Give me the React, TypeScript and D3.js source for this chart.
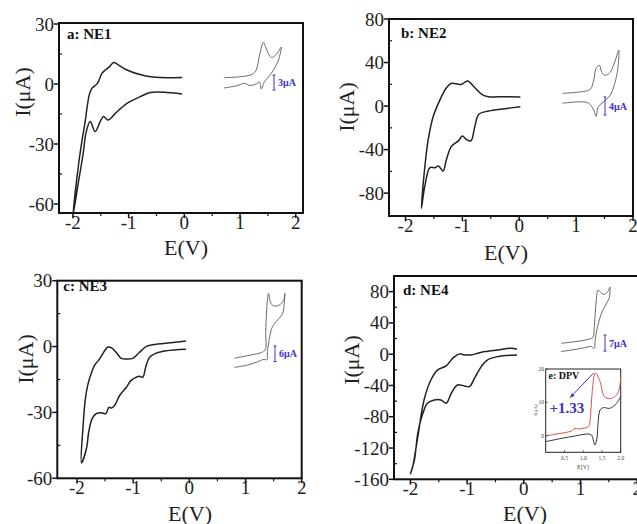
import React from 'react'
import * as d3 from 'd3'

type Pt = [number, number]

// a: NE1 (E in V, I in uA)
const ne1Fwd: Pt[] = [[-0.04, 3.3], [-0.43, 3.2], [-0.73, 4.2], [-1.03, 7], [-1.2, 9.8], [-1.27, 10.8], [-1.34, 8.7], [-1.42, 7], [-1.48, 5.3], [-1.56, 0.3], [-1.66, -2.2], [-1.7, -4.7], [-1.74, -10.5], [-1.78, -18.8], [-1.84, -28.8], [-1.9, -40.5], [-2.0, -66]]
const ne1Rev: Pt[] = [[-2.0, -66], [-1.9, -48.8], [-1.82, -35.5], [-1.76, -23.8], [-1.69, -18.8], [-1.6, -23.8], [-1.51, -18.8], [-1.45, -16.3], [-1.37, -18], [-1.24, -14.7], [-1.03, -9.7], [-0.79, -6.3], [-0.61, -4.2], [-0.31, -4.2], [-0.04, -5]]
const ne1OxFwd: Pt[] = [[0.71, 0.46], [1.01, 0.66], [1.22, 1.14], [1.29, 2.0], [1.35, 5.0], [1.42, 7.5], [1.48, 6.0], [1.56, 4.5], [1.63, 4.9], [1.69, 5.7], [1.74, 6.6]]
const ne1OxRev: Pt[] = [[1.74, 6.6], [1.69, 4.0], [1.6, 2.0], [1.51, 0.6], [1.44, -0.3], [1.38, -1.8], [1.35, -0.4], [1.29, -0.8], [1.18, -1.1], [1.08, -0.7], [0.92, -1.2], [0.71, -1.6]]

// b: NE2
const ne2Fwd: Pt[] = [[0.02, 8.3], [-0.25, 8.6], [-0.54, 8.6], [-0.66, 10.8], [-0.78, 16.9], [-0.91, 23], [-1.01, 20], [-1.07, 20], [-1.19, 20.9], [-1.28, 16.9], [-1.39, 6.2], [-1.51, -9.2], [-1.6, -30.6], [-1.67, -61], [-1.72, -94]]
const ne2Rev: Pt[] = [[-1.72, -94], [-1.66, -73.6], [-1.57, -56.6], [-1.48, -56.6], [-1.42, -55], [-1.34, -59.8], [-1.28, -49], [-1.19, -36.8], [-1.07, -32], [-1.0, -27.6], [-0.93, -30.6], [-0.85, -32], [-0.78, -18.4], [-0.71, -7.6], [-0.54, -4.6], [-0.25, -2.4], [0.02, -0.6]]
const ne2OxFwd: Pt[] = [[0.76, 0], [1.1, 0.36], [1.25, 0.9], [1.31, 2.96], [1.35, 5.5], [1.41, 6.2], [1.45, 4.7], [1.51, 4.0], [1.6, 4.7], [1.69, 7.4], [1.75, 9.6]]
const ne2OxRev: Pt[] = [[1.75, 9.6], [1.72, 4.4], [1.6, -0.4], [1.48, -1.9], [1.39, -3.0], [1.35, -5.1], [1.31, -3.7], [1.22, -2.2], [1.1, -1.9], [0.76, -2.2]]

// c: NE3
const ne3Fwd: Pt[] = [[-0.06, 2.5], [-0.29, 1.8], [-0.65, 0.8], [-0.77, 0], [-0.89, -2.7], [-1.01, -5.4], [-1.12, -5.7], [-1.21, -5.4], [-1.3, -2.7], [-1.39, -0.5], [-1.45, -0.2], [-1.51, -2.0], [-1.6, -5.7], [-1.69, -8.7], [-1.75, -12.5], [-1.81, -17.8], [-1.85, -23.7], [-1.89, -35.8], [-1.92, -53]]
const ne3Rev: Pt[] = [[-1.85, -53], [-1.83, -46.3], [-1.79, -38.8], [-1.73, -32.8], [-1.66, -30.6], [-1.57, -30.1], [-1.49, -30.6], [-1.43, -27.6], [-1.39, -28.0], [-1.33, -26.8], [-1.24, -22.3], [-1.12, -18.5], [-1.04, -15.5], [-0.95, -14.0], [-0.89, -13.5], [-0.83, -14.0], [-0.77, -8.7], [-0.71, -5.0], [-0.59, -3.0], [-0.41, -1.9], [-0.06, -1.2]]
const ne3OxFwd: Pt[] = [[0.8, 0], [1.1, 1.3], [1.28, 2.2], [1.35, 3.2], [1.36, 10.9], [1.39, 22.4], [1.41, 25.0], [1.45, 21.2], [1.51, 20.1], [1.6, 20.5], [1.68, 22.4], [1.7, 25.0]]
const ne3OxRev: Pt[] = [[1.7, 25.0], [1.69, 21.2], [1.66, 17.3], [1.57, 14.7], [1.48, 12.2], [1.42, 7.0], [1.39, 2.6], [1.38, -0.6], [1.33, -0.4], [1.22, -1.3], [1.04, -2.6], [0.8, -3.5]]

// d: NE4
const ne4Fwd: Pt[] = [[-0.12, 6.4], [-0.22, 7.7], [-0.46, 5.5], [-0.69, 3.3], [-0.81, 1.3], [-0.93, -0.9], [-1.05, -0.9], [-1.13, 0.4], [-1.22, -3.1], [-1.28, -7.3], [-1.37, -15], [-1.52, -20], [-1.64, -33], [-1.76, -58.6], [-1.87, -105.6], [-1.96, -144], [-2.0, -153]]
const ne4Rev: Pt[] = [[-2.0, -153], [-1.93, -135.5], [-1.87, -101], [-1.78, -75.6], [-1.7, -62.8], [-1.58, -58.6], [-1.46, -58.6], [-1.37, -62.8], [-1.28, -50], [-1.17, -39.4], [-1.05, -40.6], [-0.96, -41.5], [-0.87, -30.8], [-0.75, -15.9], [-0.64, -7.3], [-0.46, -3.1], [-0.12, -0.9]]
const ne4OxFwd: Pt[] = [[0.66, 0], [0.9, 0.7], [1.08, 1.4], [1.22, 2.6], [1.24, 5.8], [1.26, 13.0], [1.28, 18.8], [1.31, 23.2], [1.37, 21.7], [1.43, 21.4], [1.49, 22.8], [1.52, 24.5]]
const ne4OxRev: Pt[] = [[1.52, 24.5], [1.51, 20], [1.49, 18.8], [1.37, 13.0], [1.3, 7.2], [1.26, 1.4], [1.24, -2.2], [1.19, -1.4], [1.02, -2.2], [0.66, -3.6]]

// e: DPV inset of NE4
const dpvRed: Pt[] = [[0.0, -0.1], [0.25, 0.4], [0.51, 0.9], [0.69, 1.4], [0.78, 2.2], [0.87, 2.0], [1.0, 2.2], [1.14, 2.7], [1.18, 4.2], [1.21, 8.2], [1.24, 13.2], [1.3, 18.2], [1.33, 18.8], [1.45, 16.2], [1.54, 12.2], [1.63, 11.2], [1.8, 11.4], [1.94, 13.2], [2.0, 17.7]]
const dpvBlack: Pt[] = [[0.0, -1.8], [0.43, -0.8], [0.78, -0.1], [1.14, 0.5], [1.22, 0.2], [1.27, -1.3], [1.31, -2.8], [1.36, -1.3], [1.4, 4.2], [1.45, 7.7], [1.54, 8.4], [1.71, 8.2], [1.89, 9.7], [2.0, 11.7]]
const dpvXTicks = [0.5, 1.0, 1.5, 2.0]
const dpvYTicks = [0, 10, 20]
const dpvPeak = 1.33

const xTicks = [-2, -1, 0, 1, 2]
const yTicksA = [-60, -30, 0, 30]
const yTicksB = [-80, -40, 0, 40, 80]
const yTicksC = [-60, -30, 0, 30]
const yTicksD = [-160, -120, -80, -40, 0, 40, 80]
const scaleBars = [3, 4, 6, 7]

const FONT = "'Liberation Serif', 'Times New Roman', serif"
const BLUE = '#3a34c8'

const panels = [
  {
    title: 'a: NE1', fwd: ne1Fwd, rev: ne1Rev, oxFwd: ne1OxFwd, oxRev: ne1OxRev, yTicks: yTicksA, bar: scaleBars[0],
    box: [59, 23, 303, 213], xDom: [-2.25, 2.13], yDom: [-64.5, 30.5],
    titleAt: [8, 16], yLab: [22, 92], xLab: [186, 255], ox: {base: 80, pxPerUnit: 5, barX: 274, barTop: 75},
  },
  {
    title: 'b: NE2', fwd: ne2Fwd, rev: ne2Rev, oxFwd: ne2OxFwd, oxRev: ne2OxRev, yTicks: yTicksB, bar: scaleBars[1],
    box: [389, 19, 633, 216], xDom: [-2.29, 2.0], yDom: [-101, 80],
    titleAt: [12, 19], yLab: [346, 107], xLab: [506, 260], ox: {base: 93.3, pxPerUnit: 4.5, barX: 605, barTop: 97},
  },
  {
    title: 'c: NE3', fwd: ne3Fwd, rev: ne3Rev, oxFwd: ne3OxFwd, oxRev: ne3OxRev, yTicks: yTicksC, bar: scaleBars[2],
    box: [57.3, 280.7, 301.7, 478.3], xDom: [-2.35, 2.0], yDom: [-60, 30],
    titleAt: [6, 10], yLab: [25, 359], xLab: [190, 521], ox: {base: 358.3, pxPerUnit: 2.6, barX: 275, barTop: 346},
  },
  {
    title: 'd: NE4', fwd: ne4Fwd, rev: ne4Rev, oxFwd: ne4OxFwd, oxRev: ne4OxRev, yTicks: yTicksD, bar: scaleBars[3],
    box: [394, 276, 640, 479.3], xDom: [-2.29, 2.05], yDom: [-160, 100],
    titleAt: [9, 19], yLab: [351, 360], xLab: [525, 521], ox: {base: 343.3, pxPerUnit: 2.3, barX: 605, barTop: 335},
  },
]

const minorBetween = (ticks: number[]) => ticks.slice(1).map((t, i) => (t + ticks[i]) / 2)
const fmt = (t: number) => (t < 0 ? '-' + Math.abs(t) : String(t))

function Panel({p, idx}: {p: any, idx: number}) {
  const [x0, y0, x1, y1] = p.box
  const x = d3.scaleLinear().domain(p.xDom).range([x0, x1])
  const y = d3.scaleLinear().domain(p.yDom).range([y1, y0])
  const yo = d3.scaleLinear().domain([0, 1]).range([p.ox.base, p.ox.base - p.ox.pxPerUnit])
  const line = d3.line<Pt>().x(d => x(d[0])).y(d => y(d[1])).curve(d3.curveCatmullRom.alpha(0.5))
  const lineOx = d3.line<Pt>().x(d => x(d[0])).y(d => yo(d[1])).curve(d3.curveCatmullRom.alpha(0.5))
  const xMinor = minorBetween(xTicks)
  const yMinor = minorBetween(p.yTicks)
  const clip = `clip${idx}`
  const barLen = p.ox.pxPerUnit * p.bar
  return <g>
    <defs>
      <clipPath id={clip}><rect x={x0} y={y0} width={x1 - x0} height={y1 - y0} /></clipPath>
    </defs>
    <g clipPath={`url(#${clip})`}>
      <path d={line([...p.fwd, ...p.rev.slice(1)]) || ''} fill="none" stroke="#222" strokeWidth={1.5} />
      <path d={lineOx([...p.oxFwd, ...p.oxRev.slice(1)]) || ''} fill="none" stroke="#6a6a6a" strokeWidth={1} />
    </g>
    <rect x={x0} y={y0} width={x1 - x0} height={y1 - y0} fill="none" stroke="#111" strokeWidth={2} />
    {xTicks.filter(t => x(t) <= x1 + 0.5).map(t => <g key={'x' + t}>
      <line x1={x(t)} x2={x(t)} y1={y1} y2={y1 + 5} stroke="#111" strokeWidth={1.5} />
      <text x={x(t)} y={y1 + 16} textAnchor="middle" fontSize={19} fontFamily={FONT} fill="#222">{fmt(t)}</text>
    </g>)}
    {xMinor.map(t => <line key={'xm' + t} x1={x(t)} x2={x(t)} y1={y1} y2={y1 + 3} stroke="#111" strokeWidth={1.2} />)}
    {p.yTicks.map((t: number) => <g key={'y' + t}>
      <line x1={x0 - 5} x2={x0} y1={y(t)} y2={y(t)} stroke="#111" strokeWidth={1.5} />
      <text x={x0 - 5} y={y(t) + 6.5} textAnchor="end" fontSize={19} fontFamily={FONT} fill="#222">{fmt(t)}</text>
    </g>)}
    {yMinor.map(t => <line key={'ym' + t} x1={x0} x2={x0 + 3} y1={y(t)} y2={y(t)} stroke="#111" strokeWidth={1.2} />)}
    <text x={x0 + p.titleAt[0]} y={y0 + p.titleAt[1]} fontSize={15} fontWeight="bold" fontFamily={FONT} fill="#111">{p.title}</text>
    <text transform={`translate(${p.yLab[0]},${p.yLab[1]}) rotate(-90)`} textAnchor="middle" dominantBaseline="central" fontSize={22} fontFamily={FONT} fill="#222">I(μA)</text>
    <text x={p.xLab[0]} y={p.xLab[1]} textAnchor="middle" fontSize={22} fontFamily={FONT} fill="#222">E(V)</text>
    <g stroke={BLUE} strokeWidth={1}>
      <line x1={p.ox.barX} x2={p.ox.barX} y1={p.ox.barTop} y2={p.ox.barTop + barLen} />
      <line x1={p.ox.barX - 1.5} x2={p.ox.barX + 1.5} y1={p.ox.barTop} y2={p.ox.barTop} />
      <line x1={p.ox.barX - 1.5} x2={p.ox.barX + 1.5} y1={p.ox.barTop + barLen} y2={p.ox.barTop + barLen} />
    </g>
    <text x={p.ox.barX + 4} y={p.ox.barTop + barLen / 2 + 3.5} fontSize={10} fontWeight="bold" fontFamily={FONT} fill={BLUE}>{p.bar}μA</text>
  </g>
}

function DpvInset() {
  const x = d3.scaleLinear().domain([0, 2.0]).range([545.7, 620.7])
  const y = d3.scaleLinear().domain([-5, 20]).range([452.3, 369])
  const line = d3.line<Pt>().x(d => x(d[0])).y(d => y(d[1])).curve(d3.curveCatmullRom.alpha(0.5))
  const peakY = d3.max(dpvRed, d => d[1]) as number
  const ax = x(dpvPeak) - 2, ay = y(peakY)
  const bx = x(0.65), by = y(11.4)
  const ang = Math.atan2(by - ay, bx - ax)
  const head = [[bx, by], [bx - 5 * Math.cos(ang - 0.4), by - 5 * Math.sin(ang - 0.4)], [bx - 5 * Math.cos(ang + 0.4), by - 5 * Math.sin(ang + 0.4)]]
  return <g>
    <rect x={545.7} y={369} width={75} height={83.3} fill="#fff" stroke="#222" strokeWidth={1} />
    <path d={line(dpvBlack) || ''} fill="none" stroke="#333" strokeWidth={1} />
    <path d={line(dpvRed) || ''} fill="none" stroke="#e05050" strokeWidth={1} />
    {dpvXTicks.map(t => <g key={t}>
      <line x1={x(t)} x2={x(t)} y1={452.3} y2={450} stroke="#222" strokeWidth={0.6} />
      <text x={x(t)} y={460} textAnchor="middle" fontSize={5.5} fontFamily={FONT} fill="#444">{t.toFixed(1)}</text>
    </g>)}
    {dpvYTicks.map(t => <g key={t}>
      <line x1={545.7} x2={548} y1={y(t)} y2={y(t)} stroke="#222" strokeWidth={0.6} />
      <text x={544} y={y(t) + 2} textAnchor="end" fontSize={5.5} fontFamily={FONT} fill="#444">{t}</text>
    </g>)}
    <text transform="translate(537,410) rotate(-90)" textAnchor="middle" fontSize={5} fontFamily={FONT} fill="#444">I(μA)</text>
    <text x={583} y={469} textAnchor="middle" fontSize={6} fontFamily={FONT} fill="#444">E(V)</text>
    <text x={548.5} y={379} fontSize={10} fontWeight="bold" fontFamily={FONT} fill="#111">e: DPV</text>
    <line x1={ax} y1={ay} x2={bx} y2={by} stroke={BLUE} strokeWidth={1} />
    <polygon points={head.map(d => d.join(',')).join(' ')} fill={BLUE} />
    <text x={x(0.1)} y={y(6.8)} fontSize={15} fontWeight="bold" fontFamily={FONT} fill={BLUE}>+{dpvPeak.toFixed(2)}</text>
  </g>
}

export default function App() {
  return <svg width={637} height={524} style={{position: 'absolute', left: 0, top: 0, background: '#fff'}}>
    <rect width={637} height={524} fill="#fff" />
    {panels.map((p, i) => <Panel key={i} p={p} idx={i} />)}
    <DpvInset />
  </svg>
}
